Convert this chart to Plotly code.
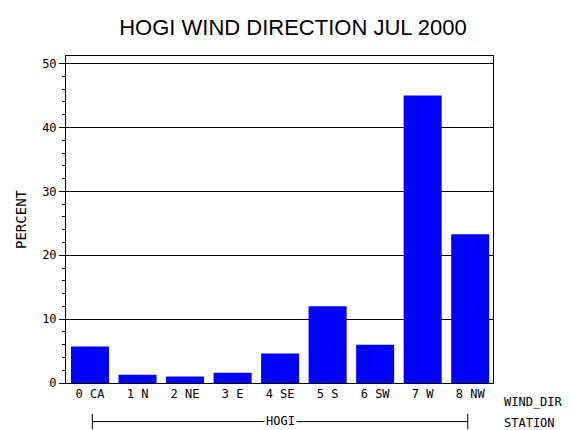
import plotly.graph_objects as go

# Wind direction categories and percent values
categories = ["0 CA", "1 N", "2 NE", "3 E", "4 SE", "5 S", "6 SW", "7 W", "8 NW"]
percent = [5.7, 1.3, 1.0, 1.6, 4.6, 12.0, 6.0, 45.0, 23.3]
y_ticks = [0, 10, 20, 30, 40, 50]

positions = list(range(len(categories)))
FONT = "DejaVu Sans Mono"

fig = go.Figure()
fig.add_trace(go.Bar(
    x=positions, y=percent, width=0.8,
    marker=dict(color="#0000ff", line=dict(width=0)),
))

fig.update_layout(
    width=570, height=430,
    margin=dict(l=58, r=85, t=48, b=55, autoexpand=False),
    paper_bgcolor="white", plot_bgcolor="white",
    showlegend=False,
    font=dict(family=FONT, color="black", size=12),
    title=dict(text="HOGI WIND DIRECTION JUL 2000", x=0.5, xanchor="center",
               y=0.955, yanchor="middle", font=dict(size=22, family="Liberation Sans")),
    xaxis=dict(
        range=[-0.505, 8.48], tickvals=positions, ticktext=categories,
        showline=True, linecolor="black", linewidth=1, mirror=True,
        showgrid=False, ticks="", zeroline=False, automargin=False,
    ),
    yaxis=dict(
        range=[0, 51.2], tickvals=y_ticks,
        showline=True, linecolor="black", linewidth=1, mirror=True,
        showgrid=True, gridcolor="black", gridwidth=1,
        ticks="outside", ticklen=6, tickcolor="black",
        minor=dict(dtick=2, ticks="outside", ticklen=3, tickcolor="black", showgrid=False),
        zeroline=False, automargin=False,
        title=dict(text="PERCENT", standoff=12),
    ),
)

# Second-level labels
fig.add_annotation(text="WIND_DIR", xref="paper", yref="paper", x=1.02, y=0,
                   yshift=-19, xanchor="left", yanchor="middle", showarrow=False)
fig.add_annotation(text="STATION", xref="paper", yref="paper", x=1.02, y=0,
                   yshift=-40, xanchor="left", yanchor="middle", showarrow=False)
fig.add_annotation(text="HOGI", xref="x", yref="paper", x=4, y=0,
                   yshift=-38, xanchor="center", yanchor="middle", showarrow=False,
                   bgcolor="white")
fig.add_shape(type="line", xref="x", yref="paper", x0=0.05, x1=7.95, y0=-0.118, y1=-0.118,
              line=dict(color="black", width=1))
for xv in (0.05, 7.95):
    fig.add_shape(type="line", xref="x", yref="paper", x0=xv, x1=xv, y0=-0.095, y1=-0.141,
                  line=dict(color="black", width=1))

fig.write_html("out.html")
